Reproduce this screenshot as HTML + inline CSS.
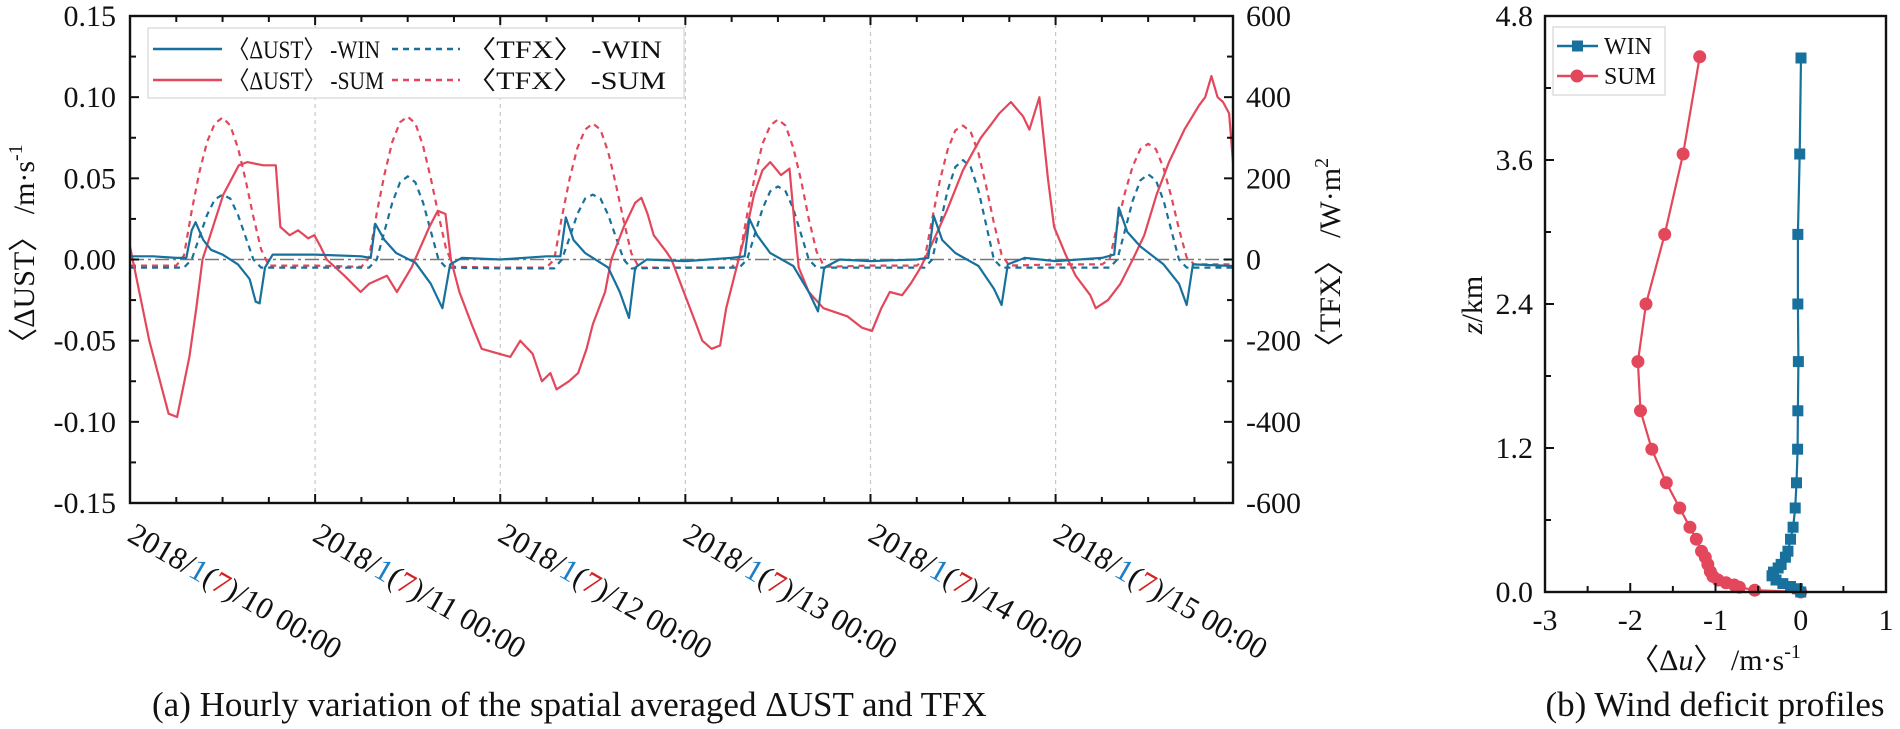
<!DOCTYPE html>
<html><head><meta charset="utf-8">
<style>
html,body{margin:0;padding:0;background:#fff;}
svg{display:block;font-family:"Liberation Serif","DejaVu Serif",serif;}
svg text{font-family:"Liberation Serif","DejaVu Serif",serif;}
</style></head>
<body>
<svg id="fig" width="1900" height="729" viewBox="0 0 1900 729" xmlns="http://www.w3.org/2000/svg">
<g id="left"></g>
<g id="right"></g>
</svg>
<script>
// ---- Left chart data ----
const dayLabels = ["10","11","12","13","14","15"];
const leftTicks = ["0.15","0.10","0.05","0.00","-0.05","-0.10","-0.15"];
const leftTickVals = [0.15,0.10,0.05,0.00,-0.05,-0.10,-0.15];
const rightTicks = ["600","400","200","0","-200","-400","-600"];
const rightTickVals = [600,400,200,0,-200,-400,-600];

const ustSumH = [0,2.5,5.0,6.1,7.7,8.6,9.4,12.1,14.1,15.2,17.3,18.9,19.5,20.7,21.8,23.1,23.9,24.7,25.5,27.8,29.9,31.0,33.3,34.6,36.5,38.8,39.9,40.9,41.6,42.7,44.3,45.6,47.8,49.3,50.6,52.2,53.4,54.5,55.3,56.9,58.1,59.2,60.0,61.6,62.4,64.0,65.5,66.3,67.1,67.9,69.5,70.2,71.8,73.4,74.2,75.4,76.5,77.3,78.9,80.0,80.9,82.0,83.0,84.4,85.5,86.0,86.7,88.0,89.9,93.0,94.9,96.2,97.4,98.5,100.1,101.2,102.5,104.0,105.9,108.0,110.3,111.6,112.7,114.2,115.8,116.6,117.9,119.0,119.8,121.3,122.6,124.5,125.2,126.8,128.4,130.0,131.5,133.1,134.7,136.7,138.6,139.4,140.2,141.0,141.7,142.5,143];
const ustSumV = [0.008,-0.05,-0.095,-0.097,-0.06,-0.03,0,0.04,0.058,0.06,0.058,0.058,0.02,0.015,0.018,0.013,0.015,0.008,0,-0.01,-0.02,-0.015,-0.01,-0.02,-0.005,0.02,0.03,0.028,0,-0.02,-0.04,-0.055,-0.058,-0.06,-0.05,-0.058,-0.075,-0.07,-0.08,-0.075,-0.07,-0.055,-0.04,-0.02,0,0.02,0.035,0.038,0.028,0.015,0.005,0,-0.02,-0.04,-0.05,-0.055,-0.053,-0.03,0,0.02,0.04,0.055,0.06,0.052,0.056,0.03,-0.005,-0.02,-0.03,-0.035,-0.042,-0.044,-0.03,-0.02,-0.022,-0.015,-0.005,0.01,0.03,0.055,0.075,0.083,0.09,0.097,0.088,0.08,0.1,0.05,0.02,0.003,-0.01,-0.022,-0.03,-0.025,-0.015,0,0.015,0.04,0.06,0.08,0.095,0.1,0.113,0.1,0.097,0.09,0.06];

const ustWinH = [0,3,6,7.3,8,8.5,9.5,10.5,12,14,15.5,16.3,16.8,17.5,18.5,24,30,31.2,31.8,33,34.5,37,39,40.5,41.5,43,48,54,55.8,56.5,57.5,59,62,63.5,64.7,65.5,67,72,78,79.7,80.3,81.3,83,86,88,89.2,90,92,96,102,103.5,104.2,105.3,107,110,112,113,113.8,116,120,126,127.6,128.2,129.3,131,134,136,137,137.8,143];
const ustWinV = [0.002,0.002,0.001,0.001,0.018,0.023,0.012,0.006,0.003,-0.003,-0.012,-0.026,-0.027,-0.005,0.003,0.003,0.002,0.001,0.022,0.012,0.004,-0.002,-0.015,-0.03,-0.003,0.001,0.0,0.002,0.002,0.026,0.012,0.004,-0.005,-0.02,-0.036,-0.005,0.0,-0.001,0.001,0.002,0.025,0.015,0.004,-0.004,-0.02,-0.032,-0.005,0.0,-0.001,0.0,0.001,0.027,0.012,0.004,-0.004,-0.018,-0.028,-0.003,0.001,-0.001,0.001,0.003,0.032,0.017,0.008,-0.003,-0.015,-0.028,-0.003,-0.004];

const tfxSumH = [0,6,7,8,9,10,11,12,13,14,15,16,17,18,24,30,31,32,33,34,35,36,37,38,39,40,41,42,48,54,55,56,57,58,59,60,61,62,63,64,65,66,72,78,79,80,81,82,83,84,85,86,87,88,89,90,96,102,103,104,105,106,107,108,109,110,111,112,113,114,120,126,127,128,129,130,131,132,133,134,135,136,137,138,143];
const tfxSumV = [-15,-15,10,120,215,290,335,350,330,275,195,105,25,-15,-15,-18,5,115,210,290,338,352,335,280,200,110,25,-18,-20,-20,0,105,200,275,320,335,320,265,185,95,15,-20,-20,-20,5,110,205,285,330,345,330,275,195,100,20,-18,-15,-15,0,100,195,270,318,330,315,262,180,90,12,-15,-12,-12,0,85,165,230,272,285,272,225,155,75,5,-12,-12];

const tfxWinH = [0,7,8,9,10,11,12,13,14,15,16,17,24,31,32,33,34,35,36,37,38,39,40,41,48,55,56,57,58,59,60,61,62,63,64,65,72,79,80,81,82,83,84,85,86,87,88,89,96,103,104,105,106,107,108,109,110,111,112,113,120,127,128,129,130,131,132,133,134,135,136,137,143];
const tfxWinV = [-20,-20,0,55,110,148,160,150,110,55,0,-20,-20,-20,0,70,140,190,205,190,140,70,0,-20,-22,-22,0,55,112,150,160,150,110,55,0,-22,-20,-20,0,62,125,168,180,168,125,62,0,-20,-20,-20,0,85,170,228,245,228,170,85,0,-20,-20,-20,0,72,145,195,210,195,145,72,0,-20,-20];

// ---- Right chart data ----
const zTicks = ["0.0","1.2","2.4","3.6","4.8"];
const zTickVals = [0,1.2,2.4,3.6,4.8];
const uTicks = ["-3","-2","-1","0","1"];
const uTickVals = [-3,-2,-1,0,1];
const sumZ = [4.46,3.65,2.98,2.40,1.92,1.51,1.19,0.91,0.70,0.54,0.44,0.34,0.29,0.23,0.17,0.13,0.10,0.077,0.058,0.04,0.015,0];
const sumU = [-1.185,-1.38,-1.596,-1.815,-1.91,-1.88,-1.747,-1.577,-1.42,-1.30,-1.225,-1.164,-1.12,-1.09,-1.06,-1.03,-0.97,-0.877,-0.78,-0.72,-0.54,0];
const winZ = [4.45,3.65,2.98,2.40,1.92,1.51,1.19,0.91,0.70,0.54,0.44,0.34,0.29,0.23,0.20,0.166,0.135,0.10,0.07,0.046,0.027,0];
const winU = [0.003,-0.012,-0.034,-0.034,-0.028,-0.034,-0.037,-0.05,-0.065,-0.09,-0.12,-0.15,-0.18,-0.23,-0.265,-0.32,-0.337,-0.29,-0.21,-0.12,-0.04,0];

const NS = "http://www.w3.org/2000/svg";
const BLUE = "#17719c", RED = "#e3475b";
const FONT = "'Liberation Serif', 'DejaVu Serif', serif";
function mk(parent, tag, attrs, text){
  const e = document.createElementNS(NS, tag);
  for (const k in attrs) e.setAttribute(k, attrs[k]);
  if (tag === 'text') e.setAttribute('font-family', FONT);
  if (text !== undefined) e.textContent = text;
  parent.appendChild(e);
  return e;
}

// ===== LEFT CHART =====
const L = document.getElementById('left');
const PL = {x0:130, x1:1233, y0:16, y1:503};
const xL = h => PL.x0 + h/143*(PL.x1-PL.x0);
const yL = v => PL.y1 - (v+0.15)/0.30*(PL.y1-PL.y0);
const yT = t => PL.y1 - (t+600)/1200*(PL.y1-PL.y0);

for (let d=1; d<dayLabels.length; d++){
  const g = mk(L,'line',{x1:xL(d*24),x2:xL(d*24),y1:PL.y0,y2:PL.y1,stroke:"#c8c8c8","stroke-width":1.2,"stroke-dasharray":"4,4"});
  
  
}
const zl = mk(L,'line',{x1:PL.x0,x2:PL.x1,y1:yL(0),y2:yL(0),stroke:"#777","stroke-width":1.6,"stroke-dasharray":"14,4,3,4"});



function path(parent, hs, vs, fx, fy, color, dash, name){
  let d = "";
  for (let i=0;i<hs.length;i++) d += (i?"L":"M") + fx(hs[i]).toFixed(1) + "," + fy(vs[i]).toFixed(1);
  const p = mk(parent,'path',{d:d,fill:"none",stroke:color,"stroke-width":2.2,"stroke-linejoin":"round"});
  if (dash) p.setAttribute('stroke-dasharray', dash);
  
  
  return p;
}
path(L, tfxSumH, tfxSumV, xL, yT, RED, "6,5", "tfx-sum-line");
path(L, tfxWinH, tfxWinV, xL, yT, BLUE, "6,5", "tfx-win-line");
path(L, ustSumH, ustSumV, xL, yL, RED, null, "ust-sum-line");
path(L, ustWinH, ustWinV, xL, yL, BLUE, null, "ust-win-line");

const fr = mk(L,'rect',{x:PL.x0,y:PL.y0,width:PL.x1-PL.x0,height:PL.y1-PL.y0,fill:"none",stroke:"#111","stroke-width":2.4});



for (let h=0; h<=143; h+=6){
  const len = (h%24===0)?9:6;
  mk(L,'line',{x1:xL(h),x2:xL(h),y1:PL.y1,y2:PL.y1-len,stroke:"#111","stroke-width":2});
  mk(L,'line',{x1:xL(h),x2:xL(h),y1:PL.y0,y2:PL.y0+len,stroke:"#111","stroke-width":2});
}
for (let i=0;i<leftTickVals.length;i++){
  const y = yL(leftTickVals[i]);
  mk(L,'line',{x1:PL.x0,x2:PL.x0+9,y1:y,y2:y,stroke:"#111","stroke-width":2});
  const t = mk(L,'text',{x:PL.x0-14,y:y+10,"text-anchor":"end","font-size":30,fill:"#111"},leftTicks[i]);
  
  
  if (i<leftTickVals.length-1){
    const ym = yL(leftTickVals[i]-0.025);
    mk(L,'line',{x1:PL.x0,x2:PL.x0+6,y1:ym,y2:ym,stroke:"#111","stroke-width":2});
  }
}
for (let i=0;i<rightTickVals.length;i++){
  const y = yT(rightTickVals[i]);
  mk(L,'line',{x1:PL.x1,x2:PL.x1-9,y1:y,y2:y,stroke:"#111","stroke-width":2});
  const t = mk(L,'text',{x:PL.x1+13,y:y+10,"text-anchor":"start","font-size":30,fill:"#111"},rightTicks[i]);
  
  
  if (i<rightTickVals.length-1){
    const ym = yT(rightTickVals[i]-100);
    mk(L,'line',{x1:PL.x1,x2:PL.x1-6,y1:ym,y2:ym,stroke:"#111","stroke-width":2});
  }
}
for (let d=0; d<dayLabels.length; d++){
  const x = xL(d*24)-4, y = 540;
  const t = mk(L,'text',{x:x,y:y,"font-size":31,fill:"#111",transform:`rotate(30 ${x} ${y})`});
  
  
  mk(t,'tspan',{},"2018/");
  mk(t,'tspan',{fill:"#1f7fc4"},"1");
  mk(t,'tspan',{},"(");
  mk(t,'tspan',{fill:"#d42020"},"7");
  mk(t,'tspan',{},")/"+dayLabels[d]+" 00:00");
}
const lt = mk(L,'text',{x:0,y:0,"font-size":30,fill:"#111","text-anchor":"middle",transform:"translate(34 251) rotate(-90)"});


mk(lt,'tspan',{},"〈ΔUST〉 /m·s");
mk(lt,'tspan',{dy:-12,"font-size":20},"-1");
const rt = mk(L,'text',{x:0,y:0,"font-size":30,fill:"#111","text-anchor":"middle",transform:"translate(1340 260) rotate(-90)"});


mk(rt,'tspan',{},"〈TFX〉 /W·m");
mk(rt,'tspan',{dy:-12,"font-size":20},"2");

const lg = mk(L,'g',{});


mk(lg,'rect',{x:148,y:28,width:536,height:70,fill:"#fff",stroke:"#ddd","stroke-width":1.5});
const legItems = [
  {x1:153,x2:222,tx:228,tl:152,y:49,c:BLUE,dash:null,label:"〈ΔUST〉 -WIN",n:"legend-ust-win"},
  {x1:153,x2:222,tx:228,tl:156,y:80,c:RED,dash:null,label:"〈ΔUST〉 -SUM",n:"legend-ust-sum"},
  {x1:392,x2:460,tx:466,tl:196,y:49,c:BLUE,dash:"6,5",label:"〈TFX〉 -WIN",n:"legend-tfx-win"},
  {x1:392,x2:460,tx:466,tl:200,y:80,c:RED,dash:"6,5",label:"〈TFX〉 -SUM",n:"legend-tfx-sum"}
];
legItems.forEach(it=>{
  const g = mk(lg,'g',{});
  
  
  const ln = mk(g,'line',{x1:it.x1,x2:it.x2,y1:it.y,y2:it.y,stroke:it.c,"stroke-width":2.4});
  if (it.dash) ln.setAttribute('stroke-dasharray',it.dash);
  mk(g,'text',{x:it.tx,y:it.y+9,"font-size":25,fill:"#111",textLength:it.tl,lengthAdjust:"spacingAndGlyphs"},it.label);
});

const ca = mk(L,'text',{x:152,y:716,"font-size":35,fill:"#111"},"(a) Hourly variation of the spatial averaged ΔUST and TFX");



// ===== RIGHT CHART =====
const R = document.getElementById('right');
const PR = {x0:1545, x1:1886, y0:16, y1:592};
const xR = u => PR.x0 + (u+3)/4*(PR.x1-PR.x0);
const yR = z => PR.y1 - z/4.8*(PR.y1-PR.y0);

path(R, sumU, sumZ, xR, yR, RED, null, "sum-profile-line");
path(R, winU, winZ, xR, yR, BLUE, null, "win-profile-line");
for (let i=0;i<sumU.length;i++){
  const c = mk(R,'circle',{cx:xR(sumU[i]),cy:yR(sumZ[i]),r:6.5,fill:RED});
  
  
}
for (let i=0;i<winU.length;i++){
  const s = mk(R,'rect',{x:xR(winU[i])-5.5,y:yR(winZ[i])-5.5,width:11,height:11,fill:BLUE});
  
  
}
const fr2 = mk(R,'rect',{x:PR.x0,y:PR.y0,width:PR.x1-PR.x0,height:PR.y1-PR.y0,fill:"none",stroke:"#111","stroke-width":2.4});


for (let i=0;i<zTickVals.length;i++){
  const y = yR(zTickVals[i]);
  mk(R,'line',{x1:PR.x0,x2:PR.x0+9,y1:y,y2:y,stroke:"#111","stroke-width":2});
  const t = mk(R,'text',{x:PR.x0-12,y:y+10,"text-anchor":"end","font-size":30,fill:"#111"},zTicks[i]);
  
  
  if (i<zTickVals.length-1){
    const ym = yR(zTickVals[i]+0.6);
    mk(R,'line',{x1:PR.x0,x2:PR.x0+6,y1:ym,y2:ym,stroke:"#111","stroke-width":2});
  }
}
for (let i=0;i<uTickVals.length;i++){
  const x = xR(uTickVals[i]);
  mk(R,'line',{x1:x,x2:x,y1:PR.y1,y2:PR.y1-9,stroke:"#111","stroke-width":2});
  const t = mk(R,'text',{x:x,y:PR.y1+38,"text-anchor":"middle","font-size":30,fill:"#111"},uTicks[i]);
  
  
  if (i<uTickVals.length-1){
    const xm = xR(uTickVals[i]+0.5);
    mk(R,'line',{x1:xm,x2:xm,y1:PR.y1,y2:PR.y1-6,stroke:"#111","stroke-width":2});
  }
}
const zt = mk(R,'text',{x:0,y:0,"font-size":30,fill:"#111","text-anchor":"middle",transform:"translate(1482 305) rotate(-90)"});


mk(zt,'tspan',{"font-style":"italic"},"z");
mk(zt,'tspan',{},"/km");
const ut = mk(R,'text',{x:1715,y:670,"font-size":30,fill:"#111","text-anchor":"middle"});


mk(ut,'tspan',{},"〈Δ");
mk(ut,'tspan',{"font-style":"italic"},"u");
mk(ut,'tspan',{},"〉 /m·s");
mk(ut,'tspan',{dy:-12,"font-size":20},"-1");

const lg2 = mk(R,'g',{});


mk(lg2,'rect',{x:1553,y:27,width:112,height:68,fill:"#fff",stroke:"#ddd","stroke-width":1.5});
const lw = mk(lg2,'g',{});


mk(lw,'line',{x1:1557,x2:1598,y1:46,y2:46,stroke:BLUE,"stroke-width":2.4});
mk(lw,'rect',{x:1572,y:40.5,width:11,height:11,fill:BLUE});
mk(lw,'text',{x:1604,y:54,"font-size":24,fill:"#111"},"WIN");
const ls = mk(lg2,'g',{});


mk(ls,'line',{x1:1557,x2:1598,y1:76,y2:76,stroke:RED,"stroke-width":2.4});
mk(ls,'circle',{cx:1577,cy:76,r:6.5,fill:RED});
mk(ls,'text',{x:1604,y:84,"font-size":24,fill:"#111"},"SUM");

const cb = mk(R,'text',{x:1715,y:716,"font-size":35,fill:"#111","text-anchor":"middle"},"(b) Wind deficit profiles");


</script>
</body></html>
